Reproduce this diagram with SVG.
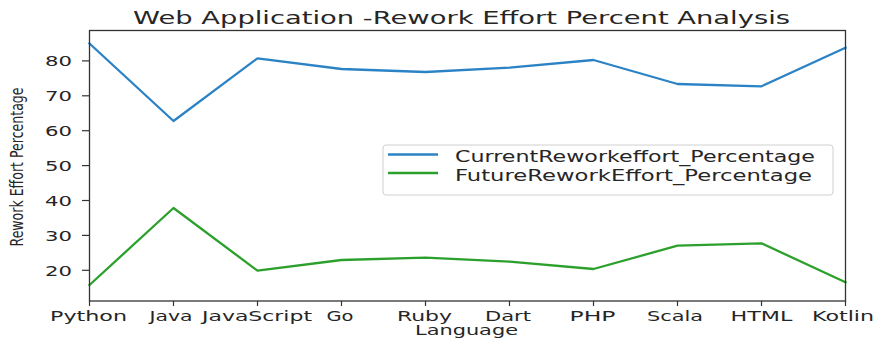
<svg xmlns="http://www.w3.org/2000/svg" width="875" height="343" viewBox="0 0 875 343">
<style>
text{font-family:"DejaVu Sans","Liberation Sans",sans-serif;fill:#262626}
.tk{font-size:13.5px;text-anchor:middle}
.yt{font-size:14px;text-anchor:end}
.tick{stroke:#333;stroke-width:1.2}
.series{fill:none;stroke-width:2.3;stroke-linejoin:round;stroke-linecap:square}
</style>
<rect width="875" height="343" fill="#fff"/>
<g id="title"><text x="133" y="24" font-size="17" textLength="657" lengthAdjust="spacingAndGlyphs">Web Application -Rework Effort Percent Analysis</text></g>
<g id="yaxis">
<line class="tick" x1="82" y1="60.9" x2="89.5" y2="60.9"/><text class="yt" x="72" y="66" textLength="27" lengthAdjust="spacingAndGlyphs">80</text>
<line class="tick" x1="82" y1="95.8" x2="89.5" y2="95.8"/><text class="yt" x="72" y="101" textLength="27" lengthAdjust="spacingAndGlyphs">70</text>
<line class="tick" x1="82" y1="130.7" x2="89.5" y2="130.7"/><text class="yt" x="72" y="136" textLength="27" lengthAdjust="spacingAndGlyphs">60</text>
<line class="tick" x1="82" y1="165.6" x2="89.5" y2="165.6"/><text class="yt" x="72" y="171" textLength="27" lengthAdjust="spacingAndGlyphs">50</text>
<line class="tick" x1="82" y1="200.5" x2="89.5" y2="200.5"/><text class="yt" x="72" y="206" textLength="27" lengthAdjust="spacingAndGlyphs">40</text>
<line class="tick" x1="82" y1="235.4" x2="89.5" y2="235.4"/><text class="yt" x="72" y="240.5" textLength="27" lengthAdjust="spacingAndGlyphs">30</text>
<line class="tick" x1="82" y1="270.3" x2="89.5" y2="270.3"/><text class="yt" x="72" y="275.5" textLength="27" lengthAdjust="spacingAndGlyphs">20</text>
<text transform="translate(23,167) rotate(-90)" font-size="17.5" text-anchor="middle" textLength="159" lengthAdjust="spacingAndGlyphs">Rework Effort Percentage</text>
</g>
<g id="xaxis">
<line class="tick" x1="89.5" y1="301" x2="89.5" y2="306"/><text class="tk" x="88.5" y="320.5" textLength="77" lengthAdjust="spacingAndGlyphs">Python</text>
<line class="tick" x1="173.5" y1="301" x2="173.5" y2="306"/><text class="tk" x="171" y="320.5" textLength="43" lengthAdjust="spacingAndGlyphs">Java</text>
<line class="tick" x1="257.5" y1="301" x2="257.5" y2="306"/><text class="tk" x="257" y="320.5" textLength="110" lengthAdjust="spacingAndGlyphs">JavaScript</text>
<line class="tick" x1="341.5" y1="301" x2="341.5" y2="306"/><text class="tk" x="340" y="320.5" textLength="27" lengthAdjust="spacingAndGlyphs">Go</text>
<line class="tick" x1="425.5" y1="301" x2="425.5" y2="306"/><text class="tk" x="424.5" y="320.5" textLength="55" lengthAdjust="spacingAndGlyphs">Ruby</text>
<line class="tick" x1="509.5" y1="301" x2="509.5" y2="306"/><text class="tk" x="508" y="320.5" textLength="46" lengthAdjust="spacingAndGlyphs">Dart</text>
<line class="tick" x1="593.5" y1="301" x2="593.5" y2="306"/><text class="tk" x="592.5" y="320.5" textLength="46" lengthAdjust="spacingAndGlyphs">PHP</text>
<line class="tick" x1="677.5" y1="301" x2="677.5" y2="306"/><text class="tk" x="675" y="320.5" textLength="56" lengthAdjust="spacingAndGlyphs">Scala</text>
<line class="tick" x1="761.5" y1="301" x2="761.5" y2="306"/><text class="tk" x="761.5" y="320.5" textLength="62" lengthAdjust="spacingAndGlyphs">HTML</text>
<line class="tick" x1="845.5" y1="301" x2="845.5" y2="306"/><text class="tk" x="843" y="320.5" textLength="62" lengthAdjust="spacingAndGlyphs">Kotlin</text>
<text x="466.5" y="334.5" font-size="13.5" text-anchor="middle" textLength="103" lengthAdjust="spacingAndGlyphs">Language</text>
</g>
<g id="connectors">
<polyline class="series" stroke="#2b83c6" points="89.5,43.5 173.5,121 257.5,58.3 341.5,69 425.5,72 509.5,67.7 593.5,60 677.5,84 761.5,86.3 845.5,47.7"/>
<polyline class="series" stroke="#2ca02c" points="89.5,285 173.5,208 257.5,270.7 341.5,260 425.5,257.7 509.5,261.7 593.5,269 677.5,245.7 761.5,243.3 845.5,282.3"/>
</g>
<g id="frame"><rect x="89.5" y="30.5" width="756" height="270.5" fill="none" stroke="#333" stroke-width="1.3"/></g>
<g id="legend">
<rect x="383" y="145" width="450" height="50" rx="3" fill="#fff" fill-opacity="0.8" stroke="#d0d0d0" stroke-width="1"/>
<line x1="388" y1="154.5" x2="438" y2="154.5" stroke="#2b83c6" stroke-width="2.3"/>
<line x1="388" y1="173" x2="438" y2="173" stroke="#2ca02c" stroke-width="2.3"/>
<text x="455" y="162" font-size="15" textLength="360" lengthAdjust="spacingAndGlyphs">CurrentReworkeffort_Percentage</text>
<text x="455" y="180.5" font-size="15" textLength="357" lengthAdjust="spacingAndGlyphs">FutureReworkEffort_Percentage</text>
</g>
</svg>
